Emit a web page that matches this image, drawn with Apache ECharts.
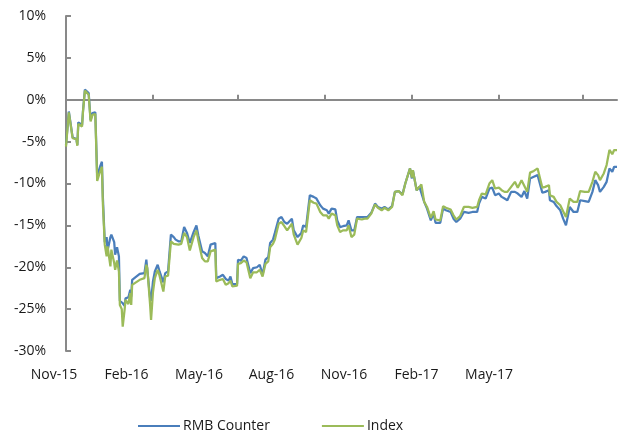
<!DOCTYPE html>
<html>
<head>
<meta charset="utf-8">
<script src="https://cdn.jsdelivr.net/npm/echarts@6/dist/echarts.min.js"></script>
<style>html,body{margin:0;padding:0;background:#fff}#c{width:622px;height:433px}</style>
</head>
<body>
<div id="c"></div>
<script>
var dates = ['2015-11-01','2015-11-04','2015-11-08','2015-11-12','2015-11-13','2015-11-14','2015-11-18','2015-11-19','2015-11-21','2015-11-25','2015-11-27','2015-11-29','2015-12-02','2015-12-04','2015-12-07','2015-12-09','2015-12-10','2015-12-12','2015-12-14','2015-12-15','2015-12-18','2015-12-19','2015-12-22','2015-12-23','2015-12-25','2015-12-27','2015-12-28','2015-12-30','2015-12-31','2016-01-02','2016-01-03','2016-01-06','2016-01-08','2016-01-09','2016-01-10','2016-01-18','2016-01-23','2016-01-25','2016-01-26','2016-01-27','2016-01-29','2016-01-30','2016-02-01','2016-02-03','2016-02-06','2016-02-08','2016-02-12','2016-02-14','2016-02-17','2016-02-20','2016-02-23','2016-02-25','2016-02-28','2016-03-02','2016-03-05','2016-03-08','2016-03-11','2016-03-15','2016-03-18','2016-03-20','2016-03-24','2016-03-27','2016-03-30','2016-04-02','2016-04-07','2016-04-08','2016-04-12','2016-04-15','2016-04-18','2016-04-21','2016-04-23','2016-04-25','2016-04-30','2016-05-01','2016-05-04','2016-05-07','2016-05-10','2016-05-14','2016-05-17','2016-05-21','2016-05-24','2016-05-27','2016-05-30','2016-06-02','2016-06-04','2016-06-07','2016-06-09','2016-06-13','2016-06-16','2016-06-19','2016-06-22','2016-06-24','2016-06-27','2016-06-29','2016-07-03','2016-07-07','2016-07-09','2016-07-12','2016-07-16','2016-07-20','2016-07-23','2016-07-27','2016-07-30','2016-08-03','2016-08-05','2016-08-08','2016-08-12','2016-08-14','2016-08-17','2016-08-20','2016-08-24','2016-08-26','2016-08-29','2016-09-01','2016-09-04','2016-09-09','2016-09-12','2016-09-15','2016-09-19','2016-09-23','2016-09-26','2016-09-30','2016-10-03','2016-10-07','2016-10-11','2016-10-14','2016-10-18','2016-10-22','2016-10-25','2016-10-27','2016-10-30','2016-11-01','2016-11-02','2016-11-06','2016-11-09','2016-11-11','2016-11-14','2016-11-17','2016-11-21','2016-11-24','2016-11-26','2016-12-01','2016-12-04','2016-12-07','2016-12-09','2016-12-12','2016-12-15','2016-12-18','2016-12-22','2016-12-26','2016-12-31','2017-01-04','2017-01-09','2017-01-11','2017-01-14','2017-01-18','2017-01-22','2017-01-25','2017-01-28','2017-02-01','2017-02-04','2017-02-07','2017-02-10','2017-02-14','2017-02-18','2017-02-21','2017-02-25','2017-02-28','2017-03-03','2017-03-06','2017-03-10','2017-03-14','2017-03-19','2017-03-22','2017-03-26','2017-03-27','2017-03-31','2017-04-03','2017-04-07','2017-04-10','2017-04-13','2017-04-17','2017-04-21','2017-04-25','2017-04-28','2017-05-03','2017-05-07','2017-05-11','2017-05-14','2017-05-17','2017-05-19','2017-05-23','2017-05-26','2017-05-29','2017-06-01','2017-06-03','2017-06-06'];

var rmbCounter = [-5.4,-1.4,-4.5,-4.7,-5.4,-2.7,-3.0,-1.3,1.2,0.8,-2.4,-1.6,-1.5,-9.2,-8.0,-7.4,-11.6,-17.0,-16.4,-18.0,-16.4,-16.1,-17.0,-18.5,-17.6,-18.7,-24.0,-24.1,-24.3,-24.6,-23.7,-23.6,-22.7,-23.5,-21.5,-20.8,-20.7,-19.1,-19.3,-19.2,-23.7,-24.0,-21.7,-20.5,-19.7,-20.5,-21.8,-20.7,-20.5,-16.1,-16.4,-16.7,-16.9,-16.9,-15.2,-15.9,-17.1,-15.8,-15.0,-16.2,-18.1,-18.3,-18.7,-17.3,-17.1,-21.3,-21.1,-20.9,-21.4,-21.6,-21.1,-22.0,-22.0,-19.1,-19.2,-18.7,-18.9,-20.7,-20.1,-20.0,-19.7,-20.9,-19.1,-18.8,-17.1,-16.7,-15.9,-14.2,-14.0,-14.6,-14.8,-14.9,-14.2,-15.6,-16.4,-15.9,-15.0,-15.2,-11.4,-11.6,-11.8,-12.6,-13.0,-13.2,-13.6,-13.0,-13.1,-14.4,-15.2,-15.1,-15.0,-14.4,-15.6,-15.6,-14.0,-14.0,-14.0,-14.0,-13.5,-12.4,-12.8,-13.0,-12.8,-13.1,-12.7,-11.0,-10.9,-11.3,-10.0,-9.9,-8.2,-9.4,-8.4,-10.8,-10.4,-10.2,-12.2,-13.0,-14.4,-13.6,-14.7,-14.7,-13.0,-13.2,-13.2,-13.4,-14.2,-14.6,-14.2,-13.4,-13.5,-13.4,-13.4,-12.4,-11.6,-11.8,-10.6,-10.5,-11.4,-11.2,-11.6,-11.8,-12.0,-11.0,-11.0,-11.2,-11.6,-10.9,-11.8,-9.4,-9.2,-9.0,-11.1,-11.0,-10.8,-12.0,-12.2,-12.7,-13.2,-14.2,-15.0,-12.8,-13.4,-13.4,-12.0,-12.1,-12.2,-11.0,-9.6,-10.2,-11.0,-10.4,-9.8,-8.2,-8.6,-8.0,-8.0];

var indexValues = [-5.6,-1.5,-4.6,-4.7,-5.5,-2.9,-3.2,-1.4,1.1,0.6,-2.6,-1.8,-1.7,-9.7,-8.6,-8.0,-12.4,-17.3,-18.7,-17.5,-19.9,-17.9,-19.5,-20.3,-19.2,-20.5,-24.5,-25.0,-27.1,-25.1,-23.9,-24.4,-23.1,-24.5,-22.1,-21.5,-21.3,-19.7,-20.1,-19.9,-24.5,-26.3,-23.0,-21.3,-20.3,-21.0,-22.9,-21.1,-21.0,-16.9,-17.2,-17.2,-17.3,-17.2,-15.9,-16.4,-18.0,-16.4,-15.6,-16.8,-18.9,-19.3,-19.3,-18.1,-17.9,-21.7,-21.5,-21.4,-22.1,-21.9,-21.6,-22.3,-22.2,-19.6,-19.5,-19.2,-19.4,-21.3,-20.6,-20.6,-20.3,-21.1,-19.6,-19.3,-17.6,-17.2,-16.7,-14.8,-14.6,-15.1,-15.6,-15.4,-14.8,-16.1,-17.3,-16.5,-15.6,-15.8,-12.0,-12.3,-12.4,-13.4,-13.8,-13.8,-14.2,-13.6,-13.8,-15.0,-15.8,-15.6,-15.6,-15.0,-16.4,-16.1,-14.2,-14.3,-14.2,-14.2,-13.6,-12.5,-12.9,-13.2,-12.9,-13.2,-12.8,-11.0,-10.9,-11.4,-10.0,-9.9,-8.2,-9.3,-8.4,-10.8,-10.4,-10.1,-12.2,-12.8,-14.1,-13.3,-14.3,-14.4,-12.7,-12.9,-12.9,-13.1,-13.8,-14.3,-13.9,-12.8,-12.8,-12.9,-12.8,-12.0,-11.2,-11.3,-10.0,-9.6,-10.6,-10.5,-10.8,-11.0,-11.0,-10.4,-9.8,-10.5,-9.6,-10.3,-11.0,-8.7,-8.5,-8.2,-10.5,-10.4,-10.2,-11.4,-11.6,-12.2,-12.6,-13.3,-14.0,-11.8,-12.2,-12.2,-10.9,-11.0,-11.0,-9.8,-8.6,-9.0,-9.6,-8.8,-7.8,-6.0,-6.5,-6.0,-6.0];

var xTickLabels = ['Nov-15','Feb-16','May-16','Aug-16','Nov-16','Feb-17','May-17'];
var xTickDates = ['2015-11-01','2016-02-01','2016-05-01','2016-08-01','2016-11-01','2017-02-01','2017-05-01'];
var seriesNames = ['RMB Counter','Index'];

function ts(s){ return new Date(s + 'T00:00:00').getTime(); }
function pairs(vals){ return dates.map(function(d,i){ return [ts(d), vals[i]]; }); }

var FONT = '"Open Sans", "Liberation Sans", Arial, sans-serif';
var AX = '#898989';
var TXT = '#1a1a1a';

var chart = echarts.init(document.getElementById('c'), null, {renderer:'canvas'});
chart.setOption({
  animation: false,
  backgroundColor: '#fff',
  grid: [
    {left: 66, right: 5, top: 16, bottom: 82, containLabel: false},
    {left: 54, right: 133, top: 16, bottom: 82, containLabel: false}
  ],
  legend: {
    data: seriesNames,
    left: 138, top: 419, padding: 0,
    icon: 'rect', itemWidth: 42, itemHeight: 2, itemGap: 52,
    textStyle: {fontFamily: FONT, fontSize: 14, color: TXT, padding: [0,0,0,-2]}
  },
  xAxis: [
    {
      type: 'time', gridIndex: 0,
      min: ts('2015-11-01'), max: ts('2017-06-06'),
      axisLine: {show: true, onZero: true, lineStyle: {color: AX, width: 2}},
      axisTick: {show: true, inside: true, length: 5, lineStyle: {color: AX, width: 2},
                 customValues: xTickDates.map(ts)},
      axisLabel: {show: false},
      splitLine: {show: false}
    },
    {
      type: 'category', gridIndex: 1, data: xTickLabels, boundaryGap: false,
      axisLine: {show: false}, axisTick: {show: false}, splitLine: {show: false},
      axisLabel: {interval: 0, margin: 17, fontFamily: FONT, fontSize: 14, color: TXT}
    }
  ],
  yAxis: [
    {
      type: 'value', gridIndex: 0, min: -30, max: 10, interval: 5,
      axisLine: {show: true, lineStyle: {color: AX, width: 2}},
      axisTick: {show: true, inside: true, length: 5, lineStyle: {color: AX, width: 2}},
      axisLabel: {formatter: '{value}%', margin: 20, fontFamily: FONT, fontSize: 14, color: TXT},
      splitLine: {show: false}
    },
    {type: 'value', gridIndex: 1, show: false, min: 0, max: 1}
  ],
  series: [
    {name: seriesNames[0], type: 'line', xAxisIndex: 0, yAxisIndex: 0, data: pairs(rmbCounter),
     showSymbol: false, symbol: 'none', lineStyle: {color: '#4a7ebb', width: 2.25}, itemStyle: {color: '#4a7ebb'}},
    {name: seriesNames[1], type: 'line', xAxisIndex: 0, yAxisIndex: 0, data: pairs(indexValues),
     showSymbol: false, symbol: 'none', lineStyle: {color: '#9bbb59', width: 2.25}, itemStyle: {color: '#9bbb59'}}
  ]
});
</script>
</body>
</html>
